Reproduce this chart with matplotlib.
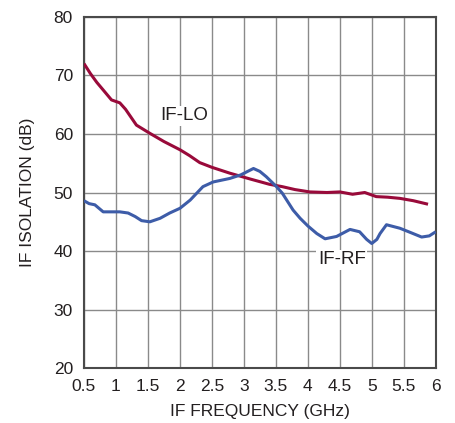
import matplotlib
matplotlib.use("Agg")
import matplotlib.pyplot as plt

# IF-LO isolation curve
lo_freq = [0.5, 0.6, 0.7, 0.8, 0.93, 1.06, 1.15, 1.32, 1.53, 1.75, 2.0, 2.15, 2.31,
           2.5, 2.78, 3.1, 3.4, 3.6, 3.8, 4.03, 4.3, 4.5, 4.7, 4.89, 5.07, 5.25,
           5.44, 5.65, 5.88]
lo_db = [72.0, 70.3, 68.8, 67.5, 65.8, 65.3, 64.2, 61.5, 60.1, 58.7, 57.3, 56.3, 55.1,
         54.3, 53.3, 52.3, 51.4, 51.0, 50.5, 50.1, 50.0, 50.1, 49.7, 50.0, 49.3, 49.2,
         49.0, 48.6, 48.0]

# IF-RF isolation curve
rf_freq = [0.5, 0.58, 0.67, 0.8, 0.95, 1.06, 1.19, 1.3, 1.4, 1.53, 1.69, 1.84, 2.0,
           2.16, 2.36, 2.52, 2.78, 2.95, 3.15, 3.25, 3.35, 3.51, 3.6, 3.77, 3.88,
           4.0, 4.14, 4.27, 4.45, 4.66, 4.81, 4.92, 5.0, 5.08, 5.13, 5.23, 5.44,
           5.6, 5.78, 5.9, 6.0]
rf_db = [48.6, 48.1, 47.9, 46.7, 46.7, 46.7, 46.5, 45.9, 45.2, 45.0, 45.6, 46.5, 47.3,
         48.7, 51.0, 51.8, 52.4, 53.0, 54.1, 53.6, 52.7, 51.0, 49.9, 47.0, 45.6,
         44.3, 43.0, 42.1, 42.5, 43.7, 43.3, 42.0, 41.3, 42.0, 43.0, 44.5, 43.9,
         43.2, 42.4, 42.6, 43.3]

x_ticks = [0.5, 1, 1.5, 2, 2.5, 3, 3.5, 4, 4.5, 5, 5.5, 6]
x_labels = ["0.5", "1", "1.5", "2", "2.5", "3", "3.5", "4", "4.5", "5", "5.5", "6"]
y_ticks = [20, 30, 40, 50, 60, 70, 80]

plt.rcParams['font.family'] = ['Liberation Sans', 'DejaVu Sans']

fig = plt.figure(figsize=(4.55, 4.23), dpi=100)
ax = fig.add_axes([0.1846, 0.1293, 0.773, 0.8312])

ax.plot(lo_freq, lo_db, color="#990a3a", lw=2.2, solid_capstyle="butt",
        solid_joinstyle="round", zorder=3)
ax.plot(rf_freq, rf_db, color="#3d5ca8", lw=2.2, solid_capstyle="butt",
        solid_joinstyle="round", zorder=3)

ax.set_xlim(0.5, 6)
ax.set_ylim(20, 80)
ax.set_xticks(x_ticks)
ax.set_xticklabels(x_labels)
ax.set_yticks(y_ticks)
ax.tick_params(length=0, labelsize=12.5, colors="#231f20")
ax.tick_params(axis="x", pad=8)
ax.tick_params(axis="y", pad=8)
ax.grid(True, color="#8a8a8a", lw=1.0)
ax.set_axisbelow(True)
for s in ax.spines.values():
    s.set_color("#4a4a4a")
    s.set_linewidth(1.5)

ax.set_xlabel("IF FREQUENCY (GHz)", fontsize=12.5, color="#231f20", labelpad=7)
ax.set_ylabel("IF ISOLATION (dB)", fontsize=12.5, color="#231f20", labelpad=13)

ax.text(2.06, 63.1, "IF-LO", fontsize=13.5, ha="center", va="center", color="#231f20",
        bbox=dict(facecolor="white", edgecolor="none", pad=1), zorder=2)
ax.text(4.53, 38.5, "IF-RF", fontsize=13.5, ha="center", va="center", color="#231f20",
        bbox=dict(facecolor="white", edgecolor="none", pad=1), zorder=2)

fig.savefig("out.png", dpi=100)
